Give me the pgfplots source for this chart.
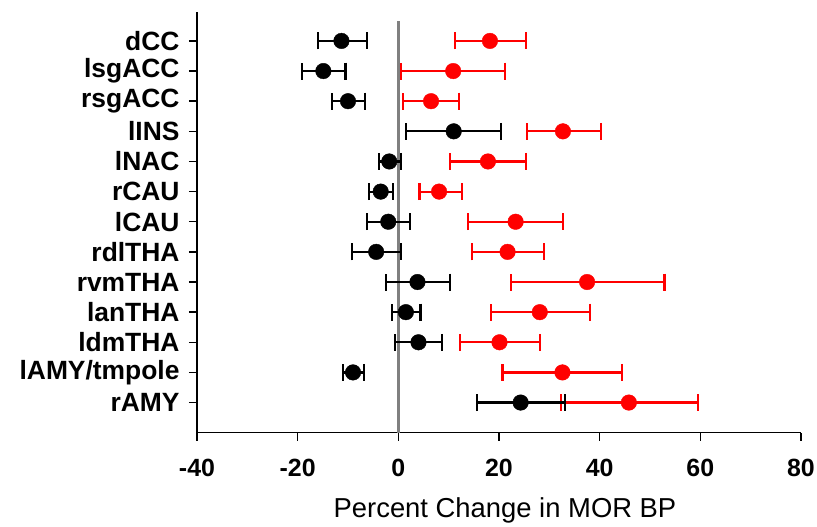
\documentclass[border=0pt]{standalone}
\usepackage{pgfplots}
\pgfplotsset{compat=1.18}
\usepackage{pgfplotstable}
\usepackage{fontspec}
\setmainfont{Liberation Sans}

% y: 13 = dCC (top) ... 1 = rAMY (bottom)
\pgfplotstableread{
y x ep em
13 -11.3 5.0 4.7
12 -14.9 4.4 4.3
11 -10.0 3.3 3.1
10 11.0 9.4 9.5
9 -1.8 2.4 2.0
8 -3.5 2.5 2.3
7 -2.0 4.3 4.2
6 -4.4 5.0 4.8
5 3.8 6.5 6.2
4 1.5 2.9 2.8
3 4.0 4.6 4.6
2 -9.0 2.1 2.0
1 24.3 8.8 8.6
}\blackdata

\pgfplotstableread{
y x ep em
13 18.2 7.2 6.9
12 10.9 10.3 10.4
11 6.5 5.5 5.5
10 32.7 7.5 7.2
9 17.8 7.6 7.5
8 8.1 4.5 3.9
7 23.3 9.4 9.5
6 21.7 7.3 7.0
5 37.5 15.4 15.1
4 28.1 10.0 9.7
3 20.1 8.0 7.8
2 32.6 11.9 11.9
1 45.8 13.7 13.5
}\reddata

\begin{document}
\begin{tikzpicture}
\useasboundingbox (-197bp,-94.3bp) rectangle (620bp,432.7bp);
\begin{axis}[
  scale only axis,
  width=604bp, height=420.4bp,
  xmin=-40, xmax=80, ymin=0, ymax=13.95,
  axis x line*=bottom, axis y line*=left,
  xtick={-40,-20,0,20,40,60,80},
  ytick={1,2,3,4,5,6,7,8,9,10,11,12,13},
  yticklabels={rAMY,lAMY/tmpole,ldmTHA,lanTHA,rvmTHA,rdlTHA,lCAU,rCAU,lNAC,lINS,rsgACC,lsgACC,dCC},
  tick align=outside,
  major tick length=8bp,
  axis line style={line width=1.5bp, black},
  major tick style={line width=1.5bp, black},
  /pgf/number format/assume math mode=true,
  xticklabel style={font=\fontsize{25}{30}\selectfont\bfseries, yshift=-15bp},
  yticklabel style={font=\fontsize{26.5}{31}\selectfont\bfseries, xshift=-6bp},
  xlabel={Percent Change in MOR BP},
  xlabel style={font=\fontsize{27.5}{33}\selectfont, at={(axis description cs:0.5,0)}, anchor=base, yshift=-85bp, xshift=6bp},
  clip=false,
]
\addplot[color={rgb,255:red,128;green,128;blue,128}, line width=2.6bp] coordinates {(0,0) (0,13.65)};

\addplot[only marks, mark=*, mark size=7.8bp, red, mark options={fill=red, draw=red},
  error bars/.cd, x dir=both, x explicit,
  error mark=|,
  error bar style={line width=2.2bp, red},
  error mark options={line width=2.2bp, mark size=8.5bp, red}]
  table[x=x, y=y, x error plus=ep, x error minus=em] {\reddata};

\addplot[only marks, mark=*, mark size=7.8bp, black, mark options={fill=black, draw=black},
  error bars/.cd, x dir=both, x explicit,
  error mark=|,
  error bar style={line width=2.2bp, black},
  error mark options={line width=2.2bp, mark size=8.5bp, black}]
  table[x=x, y=y, x error plus=ep, x error minus=em] {\blackdata};
\end{axis}
\end{tikzpicture}
\end{document}
